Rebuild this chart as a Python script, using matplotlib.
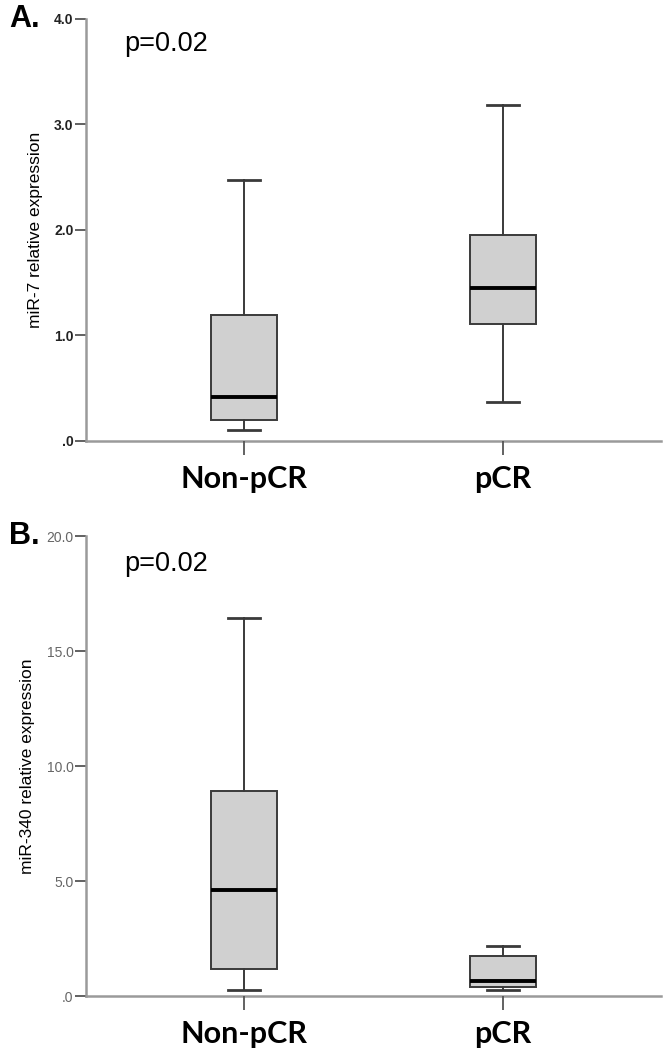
import matplotlib
matplotlib.use("Agg")
import matplotlib.pyplot as plt

GROUPS = ["Non-pCR", "pCR"]

# panel A: miR-7 (whisker low, q1, median, q3, whisker high)
A_LOW = [0.10, 0.37]
A_Q1 = [0.20, 1.11]
A_MED = [0.42, 1.45]
A_Q3 = [1.19, 1.95]
A_HIGH = [2.47, 3.18]

# panel B: miR-340
B_LOW = [0.25, 0.27]
B_Q1 = [1.18, 0.38]
B_MED = [4.61, 0.66]
B_Q3 = [8.90, 1.74]
B_HIGH = [16.45, 2.18]

A_TICKS = [0, 1, 2, 3, 4]
B_TICKS = [0, 5, 10, 15, 20]

SPINE = "#9A9A9A"
BOXFILL = "#D0D0D0"
EDGE = "#3A3A3A"


def stats(low, q1, med, q3, high):
    out = []
    for i, g in enumerate(GROUPS):
        out.append(dict(label=g, whislo=low[i], q1=q1[i], med=med[i],
                        q3=q3[i], whishi=high[i], fliers=[]))
    return out


def fmt(v):
    s = f"{v:.1f}"
    return s[1:] if s.startswith("0") else s


def panel(ax, st, ticks, ylabel, letter, bold_ticks, tick_color):
    ax.bxp(st, positions=[1, 2], widths=0.255, capwidths=0.124,
           patch_artist=True, showfliers=False,
           boxprops=dict(facecolor=BOXFILL, edgecolor=EDGE, linewidth=1.4),
           medianprops=dict(color="black", linewidth=2.8),
           whiskerprops=dict(color=EDGE, linewidth=1.4),
           capprops=dict(color=EDGE, linewidth=2.0))
    ax.set_xlim(0.39, 2.61)
    ax.set_ylim(ticks[0], ticks[-1])
    ax.set_yticks(ticks)
    ax.set_yticklabels([fmt(t) for t in ticks], fontsize=10,
                       fontweight="bold" if bold_ticks else "normal",
                       color=tick_color, family="Liberation Sans")
    ax.set_xticks([1, 2])
    ax.set_xticklabels(GROUPS, fontsize=22, fontweight="bold", family="Lato")
    ax.tick_params(axis="x", length=10, width=1.3, color="#555555", pad=7)
    ax.tick_params(axis="y", length=8, width=1.3, color="#555555", pad=1)
    for s in ["top", "right"]:
        ax.spines[s].set_visible(False)
    for s in ["left", "bottom"]:
        ax.spines[s].set_color(SPINE)
        ax.spines[s].set_linewidth(1.8)
    ax.spines["bottom"].set_zorder(0)
    ax.set_ylabel(ylabel, fontsize=12.5, family="Liberation Sans", labelpad=8)
    ax.text(0.067, 0.94, "p=0.02", transform=ax.transAxes, fontsize=19.5,
            family="Liberation Sans", va="center", ha="left")
    ax.text(-0.133, 1.0, letter, transform=ax.transAxes, fontsize=22,
            fontweight="bold", family="Liberation Sans", va="center", ha="left")


fig = plt.figure(figsize=(6.66, 10.5), dpi=100)
axA = fig.add_axes([0.129, 0.580, 0.863, 0.402])
axB = fig.add_axes([0.129, 0.0514, 0.863, 0.438])

panel(axA, stats(A_LOW, A_Q1, A_MED, A_Q3, A_HIGH), A_TICKS,
      "miR-7 relative expression", "A.", True, "#222222")
panel(axB, stats(B_LOW, B_Q1, B_MED, B_Q3, B_HIGH), B_TICKS,
      "miR-340 relative expression", "B.", False, "#666666")

fig.savefig("out.png", dpi=100, facecolor="white")
